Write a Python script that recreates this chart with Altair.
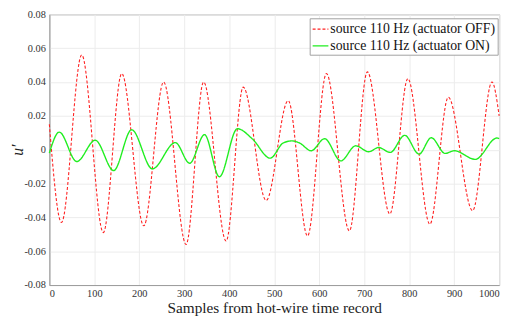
import altair as alt
import pandas as pd

# Red dashed series (actuator OFF): sample index / value at extrema
off_x = [0, 27, 72, 120, 161, 210, 254, 304, 343, 393, 431, 482, 531, 574, 616, 667, 707, 757, 797, 846, 887, 941, 984, 1000]
off_y = [0.015, -0.043, 0.056, -0.049, 0.045, -0.045, 0.040, -0.056, 0.040, -0.054, 0.037, -0.030,
         0.029, -0.051, 0.045, -0.048, 0.046, -0.038, 0.042, -0.044, 0.031, -0.036, 0.040, 0.020]

# Green series (actuator ON)
on_x = [0, 22, 61, 102, 143, 183, 229, 280, 312, 345, 378, 418, 451, 491, 520, 539, 556, 582, 612, 648,
        681, 710, 732, 758, 790, 822, 849, 880, 900, 947, 995, 1000]
on_y = [-0.002, 0.0104, -0.007, 0.0056, -0.0123, 0.0118, -0.0113, 0.0042, -0.008, 0.0089, -0.016, 0.0124,
        0.0065, -0.005, 0.004, 0.0052, 0.004, -0.0006, 0.0065, -0.0066, 0.0023, -0.0012, 0.0013, -0.0016,
        0.0085, -0.0026, 0.0071, -0.0022, -0.0006, -0.0057, 0.0069, 0.0066]

series_names = ["source 110 Hz (actuator OFF)", "source 110 Hz (actuator ON)"]
x_ticks = [0, 100, 200, 300, 400, 500, 600, 700, 800, 900, 1000]
y_ticks = [-0.08, -0.06, -0.04, -0.02, 0, 0.02, 0.04, 0.06, 0.08]

df = pd.concat([
    pd.DataFrame({"sample": off_x, "value": off_y, "series": series_names[0]}),
    pd.DataFrame({"sample": on_x, "value": on_y, "series": series_names[1]}),
])

FONT = "Liberation Serif"

chart = alt.Chart(df).mark_line(interpolate="monotone").encode(
    x=alt.X("sample:Q",
            scale=alt.Scale(domain=[0, 1000], nice=False, zero=False),
            axis=alt.Axis(values=x_ticks, format="d", title="Samples from hot-wire time record",
                          titleX=228.5, titleY=23, titleBaseline="middle", titleAnchor="middle")),
    y=alt.Y("value:Q",
            scale=alt.Scale(domain=[-0.08, 0.08], nice=False, zero=False),
            axis=alt.Axis(values=y_ticks,
                          labelExpr="abs(datum.value) < 1e-9 ? '0' : (datum.value < 0 ? '-' + format(-datum.value, '.2f') : format(datum.value, '.2f'))",
                          title="u′", titleX=-27, titleY=137.5, titleAngle=-90,
                          titleBaseline="alphabetic", titleAnchor="middle", titleFontStyle="italic")),
    color=alt.Color("series:N",
                    scale=alt.Scale(domain=series_names, range=["#ff2020", "#20ee20"]),
                    legend=alt.Legend(title=None, orient="none", legendX=264.5, legendY=4,
                                      symbolType="stroke", symbolSize=256, symbolStrokeWidth=1.5,
                                      labelFont=FONT, labelFontSize=14, labelColor="#111111",
                                      labelLimit=400,
                                      strokeColor="#a0a0a0", fillColor="white",
                                      padding=2, rowPadding=1, labelOffset=1)),
    strokeDash=alt.StrokeDash("series:N",
                              scale=alt.Scale(domain=series_names, range=[[3, 2], [1, 0]]),
                              legend=None),
    strokeWidth=alt.StrokeWidth("series:N",
                                scale=alt.Scale(domain=series_names, range=[1.1, 1.4]),
                                legend=None),
).properties(
    width=457, height=275,
    padding={"left": 42, "top": 4, "right": 10, "bottom": 30},
    autosize=alt.AutoSizeParams(type="none"),
).configure_view(
    stroke="#9a9a9a", strokeWidth=1
).configure_axis(
    labelFont=FONT, labelFontSize=10.5, labelColor="#333333",
    titleFont=FONT, titleFontSize=15.5, titleColor="#222222", titleFontWeight="normal",
    gridColor="#ececec", gridWidth=1, domainColor="#9a9a9a", ticks=False, labelPadding=4,
).configure_axisY(
    titleFontSize=16,
)

chart.save("out.html", embed_options={"renderer": "svg", "actions": False})
